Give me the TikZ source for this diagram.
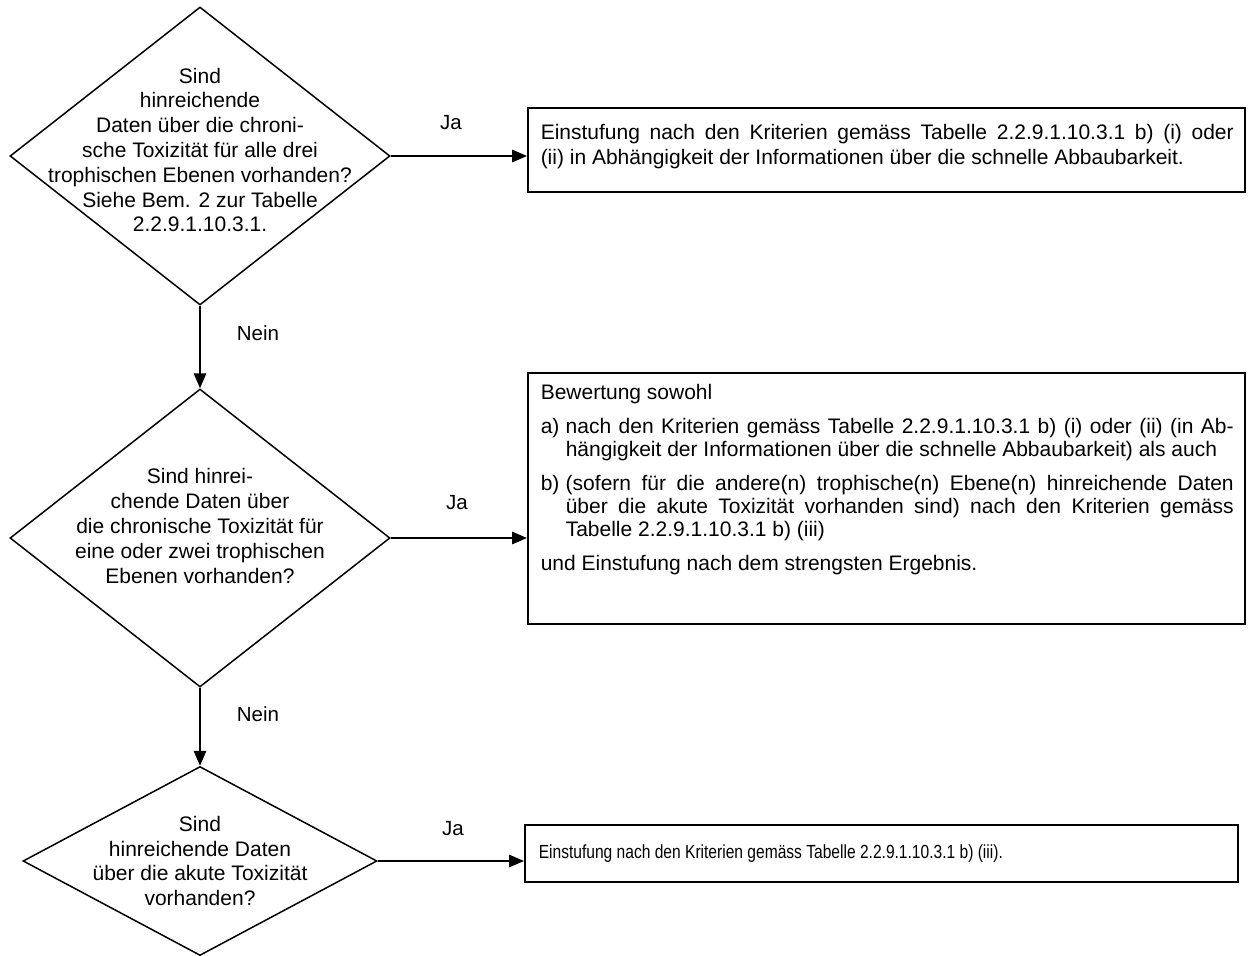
\documentclass[tikz,border=0pt]{standalone}
\usepackage{fontspec}
\setmainfont{Liberation Sans}
\newfontfamily\narrowfont{Liberation Sans}[FakeStretch=0.82]
\usetikzlibrary{shapes.geometric,arrows.meta}
\begin{document}
\begin{tikzpicture}[x=1pt,y=-1pt,line width=1.5pt,
  decision/.style={diamond,draw,inner sep=0pt},
  qtext/.style={align=center,font=\fontsize{21}{24.8}\selectfont,inner sep=0pt},
  resbox/.style={draw,rectangle,inner sep=0pt,anchor=north west},
  rtext/.style={align=justify,text width=693pt,inner sep=0pt,anchor=north west},
  lbl/.style={font=\fontsize{20.5}{24}\selectfont,inner sep=0pt},
  arr/.style={-{Triangle[length=15pt,width=12.5pt]}}]
\useasboundingbox (0,0) rectangle (1251,956);

% decisions
\node[decision,minimum width=380pt,minimum height=298pt] (d1) at (200,156) {};
\node[qtext] (q1) at (200,150) {Sind\\hinreichende\\Daten über die chroni-\\sche Toxizität für alle drei\\trophischen Ebenen vorhanden?\\Siehe Bem. 2 zur Tabelle\\2.2.9.1.10.3.1.};

\node[decision,minimum width=380pt,minimum height=298pt] (d2) at (200,538) {};
\node[qtext] (q2) at (200,526) {Sind hinrei-\\chende Daten über\\die chronische Toxizität für\\eine oder zwei trophischen\\Ebenen vorhanden?};

\node[decision,minimum width=354pt,minimum height=189pt] (d3) at (200,861) {};
\node[qtext] (q3) at (200,861) {Sind\\hinreichende Daten\\über die akute Toxizität\\vorhanden?};

% result boxes
\node[resbox,minimum width=717pt,minimum height=84pt] (b1) at (527,107) {};
\node[rtext,font=\fontsize{21}{25}\selectfont] (t1) at ([xshift=13pt,yshift=-17pt]b1.north west)
 {\tolerance=10000 Einstufung nach den Kriterien gemäss Tabelle 2.2.9.1.10.3.1 b) (i) oder\linebreak
 (ii) in Abhängigkeit der Informationen über die schnelle Abbaubarkeit.};

\node[resbox,minimum width=717pt,minimum height=251pt] (b2) at (527,372) {};
\node[rtext,font=\fontsize{21}{23}\selectfont] (t2) at ([xshift=13pt,yshift=-12pt]b2.north west)
 {\parindent=0pt\parskip=11pt\tolerance=10000\hyphenpenalty=10000
 Bewertung sowohl\par
 \hangindent=25pt\hangafter=1\makebox[25pt][l]{a)}nach den Kriterien gemäss Tabelle 2.2.9.1.10.3.1 b) (i) oder (ii) (in Ab-\linebreak
 hängigkeit der Informationen über die schnelle Abbaubarkeit) als auch\par
 \hangindent=25pt\hangafter=1\makebox[25pt][l]{b)}(sofern für die andere(n) trophische(n) Ebene(n) hinreichende Daten\linebreak
 über die akute Toxizität vorhanden sind) nach den Kriterien gemäss\linebreak
 Tabelle 2.2.9.1.10.3.1 b) (iii)\par
 und Einstufung nach dem strengsten Ergebnis.};

\node[resbox,minimum width=713pt,minimum height=57pt] (b3) at (524,824) {};
\node[anchor=west,inner sep=0pt,font=\narrowfont\fontsize{19}{23}\selectfont] (t3) at ([xshift=14pt]b3.west)
 {Einstufung nach den Kriterien gemäss Tabelle 2.2.9.1.10.3.1 b) (iii).};

% connectors
\draw[arr] (d1.east) -- (d1.east -| b1.west);
\draw[arr] (d2.east) -- (d2.east -| b2.west);
\draw[arr] (d3.east) -- (d3.east -| b3.west);
\draw[arr] (d1.south) -- (d2.north);
\draw[arr] (d2.south) -- (d3.north);

% labels
\node[lbl] (ja1) at (451,123) {Ja};
\node[lbl] (ja2) at (457,503) {Ja};
\node[lbl] (ja3) at (453,829) {Ja};
\node[lbl] (nein1) at (258,333) {Nein};
\node[lbl] (nein2) at (258,714) {Nein};
\end{tikzpicture}
\end{document}
